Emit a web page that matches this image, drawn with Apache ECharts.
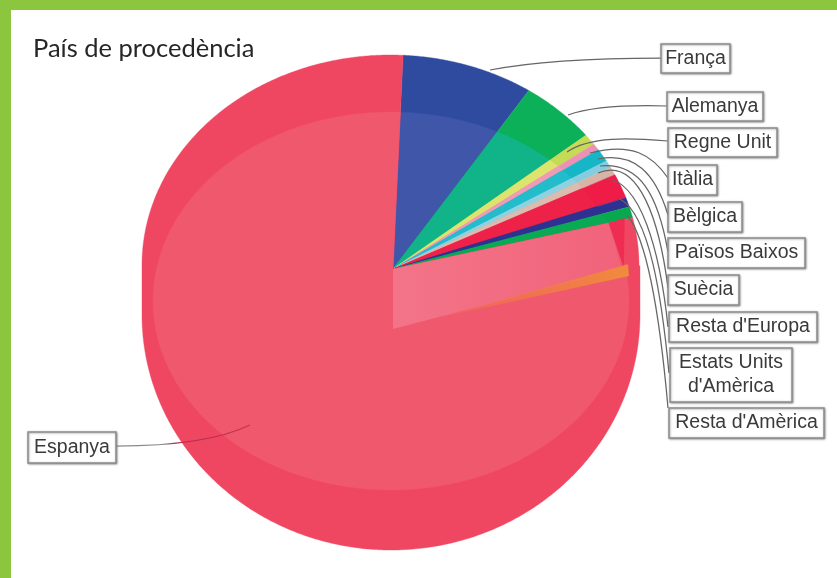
<!DOCTYPE html>
<html>
<head>
<meta charset="utf-8">
<style>html,body{margin:0;padding:0;background:#fff}#c{width:837px;height:578px}</style>
<script src="https://cdn.jsdelivr.net/npm/echarts@6/dist/echarts.min.js"></script>
</head>
<body>
<div id="c"></div>
<script>
// ---- data (percent of visitors) ----
const titleText = 'País de procedència';
const categories = ['França','Alemanya','Regne Unit','Itàlia','Bèlgica','Països Baixos','Suècia',"Resta d'Europa","Estats Units\nd'Amèrica","Resta d'Amèrica",'Espanya'];
const values = [9.6,5.0,0.8,0.47,0.92,0.5,0.56,1.67,0.64,0.75,79.1];

// ---- styling and layout, separate from the data ----
const outerColors = ['#2f4ba0','#0cb058','#c5da55','#ee8fb4','#17b6c6','#84cde0','#d8b4a6','#ee1c47','#2e3192','#08a84f','#ef4661'];
const innerColors = ['#3f56a9','#10b488','#dce46e','#f09ab8','#22bccb','#8ed2e2','#dcbcae','#ee2149','#2e3192','#0aa954','#f0586e'];
const startAngle = 2.7;
const apex = {x:393,y:269};
const upperRim = {x:390.5,y:265,rx:248.5,ry:210};
const lowerRim = {x:391,y:315,rx:249,ry:235};
const gloss = {x:391,y:301,rx:238,ry:189};
const wallDepth = 60;
const boxes = [[661,44,730,73],[667,92,763,121],[668,128,777,157],[668,165,717,195],[668,202,742,232],[668,238,805,268],[668,275,739,305],[669,312,817,342],[670,348,792,402],[669,408,824,438],[28,432,116,463]];
const leaders = [
 [490,70,540,60,600,58,661,58],
 [568,115,590,107,630,105,667,106],
 [567,152,590,136,630,138,668,141],
 [590,153,632,142,652,155,668,178],
 [598,159,634,152,655,172,668,215],
 [600,166,640,162,658,195,668,252],
 [598,173,640,155,660,225,668,288],
 [606,179,640,180,660,250,668,327],
 [620,199,650,215,662,300,669,373],
 [628,216,650,245,662,340,668,408],
 [250,425,215,442,165,446,116,446]
];
const rad = d => d*Math.PI/180;
const dir = a => ({x:Math.sin(rad(a)),y:-Math.cos(rad(a))});
function hitEllipse(o,a,e){const d=dir(a),fx=(o.x-e.x)/e.rx,fy=(o.y-e.y)/e.ry,dx=d.x/e.rx,dy=d.y/e.ry,A=dx*dx+dy*dy,B=fx*dx+fy*dy,C=fx*fx+fy*fy-1;return (-B+Math.sqrt(B*B-A*C))/A;}
function toRim(o,a){
  const d=dir(a);
  let t=Math.max(hitEllipse(o,a,upperRim),hitEllipse(o,a,lowerRim));
  if(Math.abs(d.x)>1e-6){
    const edge=d.x>0?lowerRim.x+lowerRim.rx:lowerRim.x-lowerRim.rx,tx=(edge-o.x)/d.x,yy=o.y+d.y*tx;
    if(tx>0&&yy>=upperRim.y&&yy<=lowerRim.y)t=Math.max(t,tx);
  }
  return {x:o.x+d.x*t,y:o.y+d.y*t};
}
function toGloss(o,a){const d=dir(a),t=hitEllipse(o,a,gloss);return {x:o.x+d.x*t,y:o.y+d.y*t};}
function wedge(o,a0,a1,fn){const pts=[[o.x,o.y]],n=Math.max(2,Math.ceil((a1-a0)*2));for(let i=0;i<=n;i++){const p=fn(o,a0+(a1-a0)*i/n);pts.push([p.x,p.y]);}return pts;}
const total = values.reduce((s,v)=>s+v,0);
function sliceAngles(i){let s=0;for(let k=0;k<i;k++)s+=values[k];return [startAngle+s/total*360,startAngle+(s+values[i])/total*360];}
const spainStart = sliceAngles(values.length-1)[0];

function renderSlice(params,api){
  const i=params.dataIndex,[a0,a1]=sliceAngles(i);
  return {type:'group',children:[
    {type:'polygon',shape:{points:wedge(apex,a0,a1,toRim)},style:{fill:outerColors[i],stroke:outerColors[i],lineWidth:.4}},
    {type:'polygon',shape:{points:wedge(apex,a0,a1,toGloss)},style:{fill:innerColors[i],stroke:innerColors[i],lineWidth:.4}}
  ]};
}
function renderWall(){
  const low={x:apex.x,y:apex.y+wallDepth};
  const top=toRim(apex,spainStart),bot=toRim(low,spainStart-2.6);
  const pA={x:apex.x+(top.x-apex.x)*.9,y:apex.y+(top.y-apex.y)*.9};
  const pB={x:low.x+(bot.x-low.x)*.93,y:low.y+(bot.y-low.y)*.93};
  const oA=toRim(low,spainStart-2.7),oB=toRim(low,spainStart-.1);
  const cut=11;
  return {type:'group',children:[
    {type:'polygon',shape:{points:[[apex.x,apex.y],[pA.x,pA.y],[pB.x,pB.y],[low.x,low.y]]},
     style:{fill:{type:'linear',x:0,y:0,x2:1,y2:0,colorStops:[{offset:0,color:'#f37488'},{offset:1,color:'#f1637b'}]}}},
    {type:'polygon',shape:{points:[[pA.x,pA.y],[top.x-cut+3,top.y],[pB.x+2,pB.y-1]]},style:{fill:'#ef2c52'}},
    {type:'polygon',shape:{points:[[low.x+40,low.y-10],[oA.x-cut,oA.y],[oB.x-cut,oB.y]]},
     style:{fill:{type:'linear',x:0,y:0,x2:1,y2:0,colorStops:[{offset:0,color:'rgba(240,138,58,0)'},{offset:.45,color:'rgba(240,120,70,.75)'},{offset:1,color:'#f08c3c'}]}}}
  ]};
}
function renderLabel(params,api){
  const i=params.dataIndex,b=boxes[i],l=leaders[i];
  const spain=i===values.length-1;
  const stroke=spain?{type:'linear',global:true,x:116,y:0,x2:250,y2:0,colorStops:[{offset:0,color:'#8a8a8a'},{offset:.35,color:'#8a8a8a'},{offset:.45,color:'#b0304c'},{offset:1,color:'#c23450'}]}:'#666666';
  return {type:'group',children:[
    {type:'bezierCurve',shape:{x1:l[0],y1:l[1],cpx1:l[2],cpy1:l[3],cpx2:l[4],cpy2:l[5],x2:l[6],y2:l[7]},style:{fill:'none',stroke,lineWidth:1.25}},
    {type:'rect',shape:{x:b[0],y:b[1],width:b[2]-b[0],height:b[3]-b[1]},style:{fill:'#fff',stroke:'#8e8e8e',lineWidth:1.5,shadowBlur:2,shadowColor:'rgba(90,90,90,.6)',shadowOffsetX:.5,shadowOffsetY:.5}},
    {type:'text',x:(b[0]+b[2])/2,y:(b[1]+b[3])/2,style:{text:categories[i],font:'19.5px "Liberation Sans", Arial, sans-serif',fill:'#3a3a3a',align:'center',verticalAlign:'middle',lineHeight:24}}
  ]};
}
const sliceData = values.map((v,i)=>({name:categories[i],value:v}));
const chart = echarts.init(document.getElementById('c'),null,{renderer:'canvas'});
chart.setOption({
  animation:false,
  backgroundColor:'#ffffff',
  title:{text:titleText,left:33,top:36,padding:0,textStyle:{fontFamily:'Lato',fontWeight:'normal',fontSize:25.5,color:'#262626'}},
  tooltip:{show:false},
  graphic:[
    {type:'rect',z:100,shape:{x:0,y:0,width:837,height:10},style:{fill:'#8cc63f'},silent:true},
    {type:'rect',z:100,shape:{x:0,y:0,width:11,height:578},style:{fill:'#8cc63f'},silent:true}
  ],
  series:[
    {type:'custom',name:'País de procedència',coordinateSystem:'none',z:2,data:sliceData,renderItem:renderSlice,silent:true},
    {type:'custom',coordinateSystem:'none',z:3,data:[0],renderItem:renderWall,silent:true},
    {type:'custom',coordinateSystem:'none',z:4,data:sliceData,renderItem:renderLabel,silent:true}
  ]
});
</script>
</body>
</html>
